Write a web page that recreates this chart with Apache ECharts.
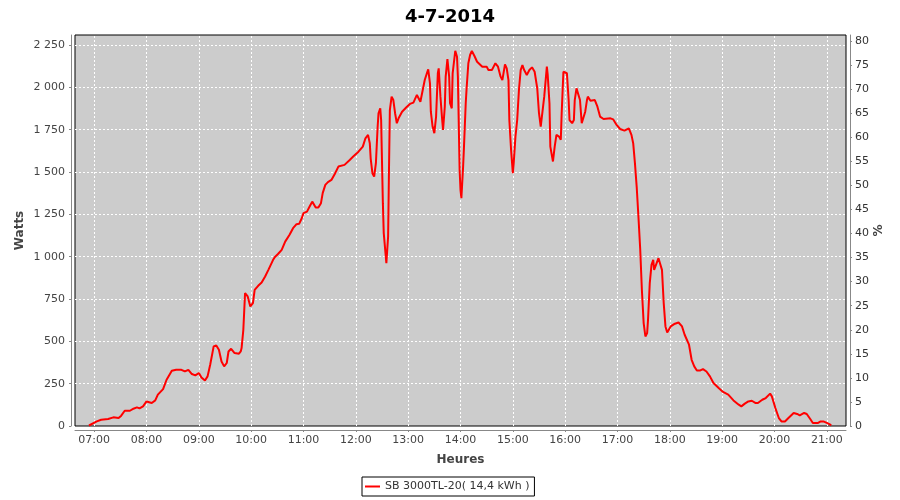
<!DOCTYPE html>
<html>
<head>
<meta charset="utf-8">
<script src="https://cdn.jsdelivr.net/npm/echarts@6/dist/echarts.min.js"></script>
<style>html,body{margin:0;padding:0;background:#fff}#c{width:900px;height:500px}</style>
</head>
<body>
<div id="c"></div>
<script>
var titleText = '4-7-2014';
var seriesName = 'SB 3000TL-20( 14,4 kWh )';
var times = [
'06:54','07:03','07:08','07:16','07:22','07:28','07:31','07:35','07:41','07:45','07:49','07:52','07:56',
'08:00','08:06','08:10','08:13','08:19','08:23','08:29','08:34','08:40','08:44','08:48','08:52','08:56',
'09:00','09:03','09:07','09:10','09:13','09:17','09:20','09:23','09:26','09:29','09:32','09:34','09:37','09:41','09:46','09:48','09:49','09:51','09:53','09:56','09:59',
'10:02','10:04','10:08','10:12','10:16','10:20','10:25','10:27','10:31','10:35','10:39','10:44','10:48','10:52','10:55','10:58',
'11:00','11:04','11:07','11:10','11:12','11:14','11:17','11:20','11:22','11:25','11:28','11:32','11:36','11:40','11:47','11:53','11:57',
'12:03','12:08','12:11','12:14','12:16','12:17','12:19','12:21','12:23','12:25','12:26','12:28','12:29','12:31','12:32','12:34','12:35','12:37','12:38','12:39','12:41','12:43','12:45','12:47','12:49','12:53','12:58',
'13:02','13:06','13:10','13:14','13:16','13:19','13:22','13:23','13:25','13:26','13:28','13:30','13:32','13:34','13:35','13:37','13:39','13:40','13:42','13:43','13:45','13:47','13:48','13:50','13:51','13:54','13:56','13:57','13:59',
'14:00','14:01','14:03','14:04','14:06','14:07','14:09','14:11','14:13','14:16','14:19','14:25','14:30','14:32','14:36','14:38','14:40','14:43','14:46','14:48','14:50','14:51','14:53','14:55','14:56','14:58',
'15:00','15:01','15:03','15:05','15:07','15:09','15:11','15:13','15:16','15:19','15:22','15:25','15:28','15:30','15:32','15:34','15:36','15:38','15:39','15:40','15:42','15:43','15:45','15:46','15:48','15:50','15:53','15:55','15:56','15:58',
'16:00','16:02','16:04','16:05','16:08','16:10','16:11','16:13','16:15','16:17','16:19','16:21','16:23','16:25','16:26','16:29','16:34','16:37','16:40','16:44','16:52','16:55','16:59',
'17:03','17:08','17:13','17:16','17:18','17:20','17:22','17:24','17:26','17:28','17:30','17:32','17:34','17:35','17:37','17:39','17:41','17:42','17:44','17:47','17:49','17:51','17:53','17:55','17:57','17:59',
'18:01','18:05','18:10','18:14','18:17','18:22','18:25','18:28','18:31','18:35','18:38','18:42','18:46','18:50','18:56',
'19:01','19:07','19:13','19:19','19:22','19:26','19:30','19:34','19:38','19:41','19:46','19:50','19:55','19:57',
'20:01','20:05','20:08','20:12','20:16','20:22','20:26','20:29','20:34','20:37','20:41','20:44','20:50','20:53','20:56',
'21:00','21:04','21:05'
];
var watts = [
3,27,37,41,51,47,61,90,90,102,110,104,116,
145,136,151,185,218,273,326,332,332,322,332,307,299,
313,287,269,293,362,470,476,450,381,352,372,440,456,431,427,440,460,568,785,765,706,
726,804,828,847,883,925,980,997,1017,1040,1089,1129,1168,1192,1194,1227,
1257,1266,1296,1325,1316,1290,1290,1316,1375,1424,1440,1453,1490,1532,1542,1571,1591,
1620,1650,1699,1719,1670,1581,1493,1473,1552,1768,1847,1876,1807,1316,1139,1021,962,1119,1512,1866,1945,1925,1847,1788,1817,1856,1882,
1902,1910,1955,1915,1925,2043,2092,2106,2024,1856,1768,1729,1827,2083,2112,1945,1807,1748,1886,2063,2166,2063,1906,1876,2083,2216,2181,2063,1512,
1394,1345,1532,1650,1906,1994,2142,2191,2215,2185,2151,2122,2122,2102,2102,2122,2142,2122,2063,2043,2053,2136,2112,2043,1807,1630,
1493,1552,1709,1807,1984,2102,2132,2102,2073,2102,2118,2092,1994,1847,1768,1758,1945,2063,2122,2073,1906,1650,1591,1562,1650,1719,1709,1690,1847,2092,
2098,2083,1925,1807,1788,1807,1925,1994,2000,1925,1788,1788,1856,1925,1945,1921,1925,1886,1827,1813,1817,1811,1778,
1754,1744,1758,1719,1670,1552,1414,1237,1050,800,608,529,549,627,844,952,981,922,932,991,1001,922,726,588,552,558,
588,602,611,588,539,480,391,352,328,328,336,322,293,254,224,
201,185,151,126,116,132,145,149,136,136,155,165,191,175,
106,47,27,27,47,77,71,63,77,71,41,18,18,27,27,
18,8,3
];
var hourTicks = ['07:00','08:00','09:00','10:00','11:00','12:00','13:00','14:00','15:00','16:00','17:00','18:00','19:00','20:00','21:00'];
var wattTicks = [250,500,750,1000,1250,1500,1750,2000,2250];
var axisStart = '06:38', axisEnd = '21:22';
var wattMax = 2309, wattStep = 250;
var pctMax = 81.25, pctStep = 5;

function toMin(s) { var p = s.split(':'); return (+p[0]) * 60 + (+p[1]); }
function pad(n) { return (n < 10 ? '0' : '') + n; }
function fmtMin(v) { var m = Math.round(v); return pad(Math.floor(m / 60)) + ':' + pad(m % 60); }
var data = times.map(function (t, i) { return [toMin(t), watts[i]]; });
var tickVals = hourTicks.map(toMin);

var font = 'DejaVu Sans';
var gridLine = { color: '#ffffff', type: [2, 2], width: 1 };
var markData = tickVals.map(function (v) { return { xAxis: v }; })
  .concat(wattTicks.map(function (v) { return { yAxis: v }; }));
var chart = echarts.init(document.getElementById('c'), null, { renderer: 'canvas' });
chart.setOption({
  animation: false,
  backgroundColor: '#ffffff',
  title: {
    text: titleText, left: 'center', top: 3,
    textStyle: { fontFamily: font, fontSize: 18, fontWeight: 'bold', color: '#000' }
  },
  legend: {
    data: [seriesName],
    left: 362, top: 477,
    icon: 'rect', itemWidth: 15, itemHeight: 2,
    padding: [4, 5, 4, 3],
    borderColor: '#000', borderWidth: 1,
    textStyle: { fontFamily: font, fontSize: 11, color: '#333' },
    itemGap: 5
  },
  grid: {
    left: 75, right: 54, top: 35, bottom: 74,
    show: true, backgroundColor: '#cccccc', borderColor: '#000', borderWidth: 1,
    containLabel: false
  },
  xAxis: {
    type: 'value',
    min: toMin(axisStart), max: toMin(axisEnd),
    offset: 4,
    name: 'Heures', nameLocation: 'middle', nameGap: 24, nameMoveOverlap: false,
    nameTextStyle: { fontFamily: font, fontSize: 12, fontWeight: 'bold', color: '#444' },
    axisLine: { show: true, onZero: false, lineStyle: { color: '#888', width: 1 } },
    axisTick: { show: true, length: 2, customValues: tickVals, lineStyle: { color: '#888' } },
    axisLabel: {
      fontFamily: font, fontSize: 11, color: '#444', margin: 5,
      customValues: tickVals,
      formatter: function (v) { return fmtMin(v); }
    },
    splitLine: { show: false },
    minorSplitLine: { show: false }
  },
  yAxis: [{
    type: 'value', position: 'left',
    min: 0, max: wattMax, interval: wattStep,
    offset: 4,
    name: 'Watts', nameLocation: 'middle', nameGap: 45, nameRotate: 90, nameMoveOverlap: false,
    nameTextStyle: { fontFamily: font, fontSize: 12, fontWeight: 'bold', color: '#444' },
    axisLine: { show: true, lineStyle: { color: '#888', width: 1 } },
    axisTick: { show: true, length: 2, lineStyle: { color: '#888' } },
    axisLabel: {
      fontFamily: font, fontSize: 11, color: '#444', margin: 6,
      showMaxLabel: false,
      formatter: function (v) {
        if (v % wattStep !== 0) return '';
        var s = String(v);
        return s.length > 3 ? s.slice(0, s.length - 3) + ' ' + s.slice(-3) : s;
      }
    },
    splitLine: { show: false },
    minorSplitLine: { show: false }
  }, {
    type: 'value', position: 'right',
    min: 0, max: pctMax, interval: pctStep,
    offset: 4,
    name: '%', nameLocation: 'middle', nameGap: 23, nameRotate: 90, nameMoveOverlap: false,
    nameTextStyle: { fontFamily: font, fontSize: 12, fontWeight: 'bold', color: '#444' },
    axisLine: { show: true, lineStyle: { color: '#888', width: 1 } },
    axisTick: { show: true, length: 2, lineStyle: { color: '#888' } },
    axisLabel: {
      fontFamily: font, fontSize: 11, color: '#333', margin: 5,
      showMaxLabel: false,
      formatter: function (v) { return v % pctStep === 0 ? String(v) : ''; }
    },
    splitLine: { show: false },
    minorSplitLine: { show: false }
  }],
  series: [{
    name: seriesName, type: 'line', yAxisIndex: 0,
    data: data, showSymbol: false, symbol: 'none',
    lineStyle: { color: '#ff0000', width: 2 },
    itemStyle: { color: '#ff0000' },
    emphasis: { disabled: true },
    z: 3,
    markLine: {
      silent: true, symbol: ['none', 'none'], z: 1,
      label: { show: false },
      lineStyle: gridLine,
      emphasis: { disabled: true },
      data: markData
    }
  }]
});
</script>
</body>
</html>
